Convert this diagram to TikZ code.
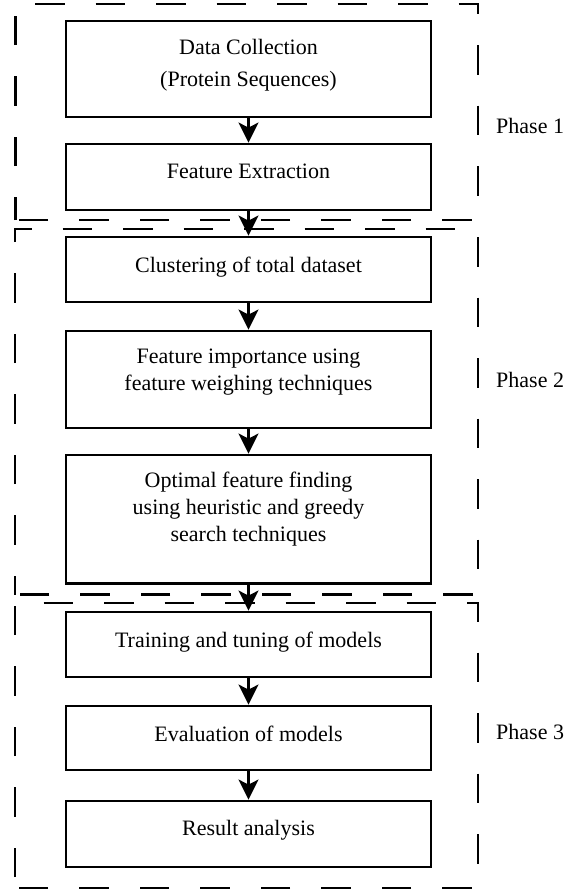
\documentclass[tikz,border=0pt]{standalone}
\usepackage{fontspec}
\setmainfont{Liberation Serif}
\usetikzlibrary{arrows.meta}
\begin{document}
\begin{tikzpicture}[x=1pt,y=-1pt,
  box/.style={draw, line width=2.9pt, minimum width=365pt, inner sep=0pt},
  lbl/.style={inner sep=0pt, align=center, font=\fontsize{22}{27}\selectfont},
  phase/.style={anchor=west, inner sep=0pt, font=\fontsize{22}{26}\selectfont},
  grp/.style={line width=2.3pt, dash pattern=on 29.5pt off 31pt},
  flow/.style={line width=2.2pt, -{Stealth[length=20pt,width=20pt,inset=5pt]}}
]
\fill[white] (0,0) rectangle (565,895);
\useasboundingbox (0,0) rectangle (565,895);

% group frames (each starts at its lower left corner and runs clockwise)
\draw[grp, dash phase=6.5pt]  (15.5,220) -- (15.5,4) -- (478,4) -- (478,220) -- cycle;
\draw[grp, dash phase=10.5pt] (15,594.5) -- (15,229) -- (478,229) -- (478,594.5) -- cycle;
\draw[grp, dash phase=49.5pt] (15,888) -- (15,603) -- (478,603) -- (478,888) -- cycle;

% boxes
\node[box, minimum height=96pt]    (b1) at (248.5,69) {};
\node[box, minimum height=66pt]    (b2) at (248.5,177) {};
\node[box, minimum height=65pt]    (b3) at (248.5,269.5) {};
\node[box, minimum height=97pt]    (b4) at (248.5,379.5) {};
\node[box, minimum height=128.5pt] (b5) at (248.5,519.25) {};
\node[box, minimum height=65pt]    (b6) at (248.5,644.5) {};
\node[box, minimum height=64pt]    (b7) at (248.5,738) {};
\node[box, minimum height=66pt]    (b8) at (248.5,834) {};

% box texts
\node[lbl, font=\fontsize{22}{32}\selectfont] (t1) at (248.5,64.8) {Data Collection\\(Protein Sequences)};
\node[lbl] (t2) at (248.5,171) {Feature Extraction};
\node[lbl] (t3) at (248.5,267) {Clustering of total dataset};
\node[lbl] (t4) at (248.5,372.5) {Feature importance using\\feature weighing techniques};
\node[lbl] (t5) at (248.5,509) {Optimal feature finding\\using heuristic and greedy\\search techniques};
\node[lbl] (t6) at (248.5,642) {Training and tuning of models};
\node[lbl] (t7) at (248.5,734) {Evaluation of models};
\node[lbl] (t8) at (248.5,830) {Result analysis};

% phase labels
\node[phase] (p1) at (496,126) {Phase 1};
\node[phase] (p2) at (496,380) {Phase 2};
\node[phase] (p3) at (496,732) {Phase 3};

% connectors
\draw[flow] (b1) -- (b2);
\draw[flow] (b2) -- (b3);
\draw[flow] (b3) -- (b4);
\draw[flow] (b4) -- (b5);
\draw[flow] (b5) -- (b6);
\draw[flow] (b6) -- (b7);
\draw[flow] (b7) -- (b8);
\end{tikzpicture}
\end{document}
